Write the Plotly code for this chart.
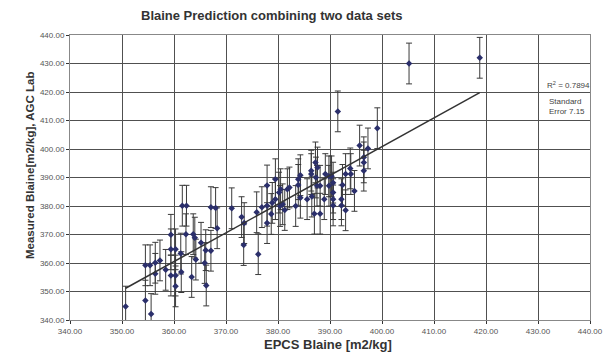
import numpy as np
import plotly.graph_objects as go

# EPCS Blaine (x) and measured Blaine (y)
epcs_blaine = [
    350.7, 354.5, 355.6, 354.5, 355.4, 356.4, 356.4, 357.3, 358.4, 359.4,
    359.4, 359.4, 360.3, 360.3, 360.3, 361.3, 361.4, 361.6, 362.4, 362.3,
    363.4, 363.7, 364.0, 364.2,
    365.2, 366.1, 365.9, 366.2, 367.1, 367.1, 368.0, 368.3, 371.1, 373.0,
    373.5, 373.4, 375.9, 376.2, 376.9, 377.9, 377.9, 377.9, 378.7, 378.9,
    379.5, 379.5, 380.2, 380.5, 380.4, 380.9, 381.3, 381.8, 382.2, 383.4,
    383.9, 383.9, 384.3, 384.3, 385.6, 386.4, 386.4, 386.5, 387.2, 387.3,
    387.0, 387.5, 388.1, 388.1, 387.6, 389.1, 388.9, 389.8, 389.8, 390.3,
    390.6, 390.6, 390.6, 390.6, 391.5, 392.2, 392.2, 392.4,
    393.0, 393.0, 393.9, 394.0, 394.7, 395.7, 396.5, 396.5, 396.5, 397.3,
    399.1, 405.2, 418.8,
]
measured_blaine = [
    344.7, 346.8, 342.1, 359.2, 359.2, 360.1, 356.2, 360.9, 357.6, 369.9,
    364.8, 355.6, 364.8, 355.6, 351.8, 363.3, 356.8, 380.1, 380.1, 370.1,
    355.1, 370.1, 368.9, 361.2,
    367.1, 364.5, 360.0, 352.1, 364.3, 379.6, 379.3, 372.2, 379.2, 376.1,
    374.0, 366.3, 377.8, 363.1, 379.6, 387.2, 380.1, 374.0, 377.2, 381.1,
    389.4, 382.4, 384.7, 385.9, 380.0, 380.6, 378.6, 385.9, 386.5, 380.0,
    389.4, 387.4, 390.8, 382.9, 382.4, 392.4, 391.2, 383.3, 395.3, 390.0,
    377.3, 387.1, 387.1, 377.3, 393.5, 391.2, 382.4, 390.4, 387.1, 390.4,
    388.2, 384.7, 382.4, 380.2, 413.2, 382.4, 380.2, 387.4,
    378.5, 391.2, 393.2, 391.2, 385.3, 401.2, 397.1, 395.3, 392.4, 400.2,
    407.3, 430.0, 432.0,
]
standard_error = 7.15
r_squared = 0.7894
x_ticks = [340, 350, 360, 370, 380, 390, 400, 410, 420, 430, 440]
y_ticks = [340, 350, 360, 370, 380, 390, 400, 410, 420, 430, 440]

x = np.array(epcs_blaine)
y = np.array(measured_blaine)
slope, intercept = np.polyfit(x, y, 1)
trend_x = np.array([x.min(), x.max()])
trend_y = slope * trend_x + intercept

W, H = 611, 357
ML, MR, MT, MB = 70, 21, 35, 37
pw, ph = W - ML - MR, H - MT - MB


def px_x(px):
    return (px - ML) / pw


def px_y(py):
    return (H - MB - py) / ph


fig = go.Figure()
fig.add_trace(go.Scatter(
    x=epcs_blaine, y=measured_blaine, mode="markers",
    marker=dict(symbol="diamond", size=5, color="#2B2F6B"),
    error_y=dict(type="constant", value=standard_error, color="#3a3a3a",
                 thickness=1, width=3),
    showlegend=False, cliponaxis=False, hoverinfo="skip",
))
fig.add_trace(go.Scatter(
    x=trend_x, y=trend_y, mode="lines",
    line=dict(color="#333333", width=1.5), showlegend=False,
    hoverinfo="skip",
))

axis_common = dict(
    showgrid=True, gridcolor="#505050", gridwidth=1,
    showline=True, linecolor="#888888", linewidth=1, mirror=True,
    ticks="outside", ticklen=3, tickcolor="#333333",
    tickfont=dict(family="Liberation Sans, Arial", size=8, color="#555555"),
    zeroline=False, tickformat=".2f", automargin=False,
)
fig.update_xaxes(range=[340, 440], tickvals=x_ticks, **axis_common)
fig.update_yaxes(range=[340, 440], tickvals=y_ticks, **axis_common)

fig.update_layout(
    width=W, height=H,
    margin=dict(l=ML, r=MR, t=MT, b=MB),
    plot_bgcolor="white", paper_bgcolor="white",
    font=dict(family="Liberation Sans, Arial", color="#333333"),
    annotations=[
        dict(text="<b>Blaine Prediction combining two data sets</b>",
             x=px_x(272), y=px_y(15), xref="paper", yref="paper",
             showarrow=False, xanchor="center", yanchor="middle",
             font=dict(size=13, color="#333333")),
        dict(text="<b>EPCS Blaine [m2/kg]</b>",
             x=px_x(328), y=px_y(344), xref="paper", yref="paper",
             showarrow=False, xanchor="center", yanchor="middle",
             font=dict(size=13, color="#333333")),
        dict(text="<b>Measured Blaine[m2/kg], AGC Lab</b>",
             x=px_x(30), y=px_y(166), xref="paper", yref="paper",
             showarrow=False, textangle=-90, xanchor="center",
             yanchor="middle",
             font=dict(size=11.5, color="#333333")),
        dict(text=f"R<sup>2</sup> = {r_squared}",
             x=px_x(545), y=px_y(85), xref="paper", yref="paper",
             showarrow=False, xanchor="left", yanchor="middle",
             font=dict(size=8, color="#444444")),
        dict(text=f"Standard<br>Error {standard_error}",
             x=px_x(547), y=px_y(106), xref="paper", yref="paper",
             showarrow=False, xanchor="left", yanchor="middle", align="left",
             font=dict(size=8, color="#444444")),
    ],
)
fig.write_html("out.html",
               config={"displayModeBar": False},
               post_script="document.body.style.margin='0';"
                           "document.body.style.padding='0';")
